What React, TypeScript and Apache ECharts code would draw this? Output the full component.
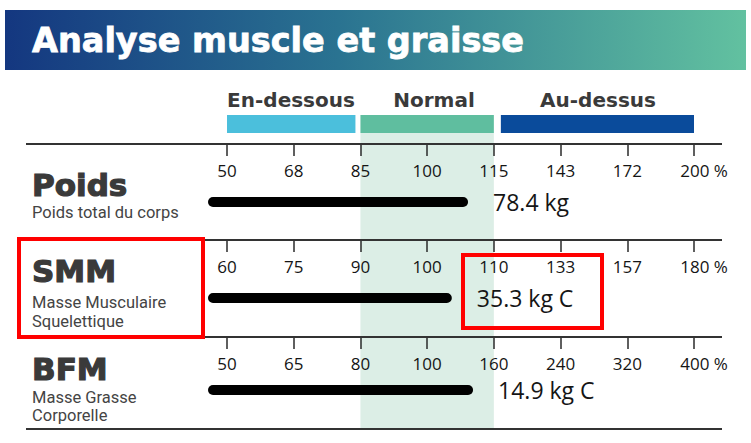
import React, { useEffect, useRef } from 'react'
import * as echarts from 'echarts'

const TITLE = 'Analyse muscle et graisse'
const RANGES = ['En-dessous', 'Normal', 'Au-dessus']
const ROWS = ['Poids', 'SMM', 'BFM']
const ROW_SUBTITLES = [
  ['Poids total du corps'],
  ['Masse Musculaire', 'Squelettique'],
  ['Masse Grasse', 'Corporelle'],
]
const POIDS_TICKS = [50, 68, 85, 100, 115, 143, 172, 200]
const SMM_TICKS = [60, 75, 90, 100, 110, 133, 157, 180]
const BFM_TICKS = [50, 65, 80, 100, 160, 240, 320, 400]
const ROW_TICKS = [POIDS_TICKS, SMM_TICKS, BFM_TICKS]
// percent of normal
const PERCENT = [109.2, 103.7, 141.3]
const KG = [78.4, 35.3, 14.9]
const FLAGS = ['', 'C', 'C']

// bars start a little left of the first tick
const OFFSET = 0.285
const ROW_TOPS = [144, 240, 337]
const TEXT = '#3a3a3a'
const INK = '#151515'

// piecewise position on the tick scale
function toAxis(pct: number, ticks: number[]) {
  for (let i = 0; i < ticks.length - 1; i++) {
    if (pct <= ticks[i + 1]) {
      return OFFSET + i + (pct - ticks[i]) / (ticks[i + 1] - ticks[i])
    }
  }
  return OFFSET + ticks.length - 1
}

export default function App() {
  const ref = useRef<HTMLDivElement>(null)

  useEffect(() => {
    if (!ref.current) return
    const chart = echarts.init(ref.current, null, { renderer: 'svg' })
    const tickValues = POIDS_TICKS.map((_, k) => k + OFFSET)

    chart.setOption({
      animation: false,
      grid: ROW_TOPS.map(top => ({ left: 208, right: 57, top, height: 116 })),
      xAxis: ROW_TICKS.map((ticks, i) => ({
        gridIndex: i,
        type: 'value',
        position: 'top',
        min: 0,
        max: ticks.length - 1 + OFFSET,
        axisLine: { show: false },
        splitLine: { show: false },
        axisTick: {
          show: true,
          inside: true,
          length: 12,
          customValues: tickValues,
          lineStyle: { color: '#2a2a2a', width: 1.5 },
        },
        axisLabel: {
          inside: true,
          margin: 18,
          customValues: tickValues,
          color: INK,
          fontSize: 17,
          fontFamily: 'Open Sans',
          formatter: (v: number) => {
            const k = Math.round(v - OFFSET)
            return k === ticks.length - 1 ? `{last|${ticks[k]} %}` : `${ticks[k]}`
          },
          rich: {
            last: {
              color: INK,
              fontSize: 17,
              fontFamily: 'Open Sans',
              padding: [0, 0, 0, 20],
            },
          },
        },
      })),
      yAxis: ROWS.map((name, i) => ({
        gridIndex: i,
        type: 'category',
        data: [name],
        show: false,
      })),
      series: ROWS.map((name, i) => ({
        type: 'bar',
        name,
        xAxisIndex: i,
        yAxisIndex: i,
        data: [toAxis(PERCENT[i], ROW_TICKS[i])],
        barWidth: 10,
        silent: true,
        itemStyle: { color: '#000', borderRadius: 5 },
        label: {
          show: true,
          position: 'right',
          distance: 25,
          formatter: `${KG[i]} kg${FLAGS[i] ? ' ' + FLAGS[i] : ''}`,
          color: INK,
          fontSize: 23,
          fontFamily: 'Open Sans',
        },
      })),
    })

    const px = (k: number) => chart.convertToPixel({ xAxisIndex: 0 }, k + OFFSET) as number
    const rangeBounds = [
      [px(0), px(2) - 5],
      [px(2), px(4)],
      [px(4) + 7, px(7)],
    ]
    const rangeColors = ['#4bbfdc', '#5fbe9f', '#0a4b9b']

    const graphic: any[] = [
      {
        type: 'rect',
        shape: { x: 5, y: 10, width: 741, height: 60 },
        style: {
          fill: new echarts.graphic.LinearGradient(0, 0, 1, 0, [
            { offset: 0, color: '#143780' },
            { offset: 0.45, color: '#2a7391' },
            { offset: 1, color: '#62c1a0' },
          ]),
        },
      },
      {
        type: 'text',
        x: 32,
        y: 40,
        style: {
          text: TITLE,
          fill: '#fff',
          stroke: '#fff',
          lineWidth: 0.8,
          fontSize: 33.5,
          fontWeight: 'bold',
          fontFamily: 'DejaVu Sans',
          verticalAlign: 'middle',
        },
      },
      // normal band
      {
        type: 'rect',
        z: -1,
        shape: { x: px(2), y: 133, width: px(4) - px(2), height: 296 },
        style: { fill: '#dceee6' },
      },
    ]

    RANGES.forEach((label, i) => {
      const [a, b] = rangeBounds[i]
      graphic.push({
        type: 'rect',
        shape: { x: a, y: 115, width: b - a, height: 18 },
        style: { fill: rangeColors[i] },
      })
      graphic.push({
        type: 'text',
        x: i === 0 ? 291 : i === 1 ? 434 : 598,
        y: 100,
        style: {
          text: label,
          fill: TEXT,
          fontSize: 20,
          fontWeight: 'bold',
          fontFamily: 'DejaVu Sans',
          align: 'center',
          verticalAlign: 'middle',
        },
      })
    })

    // row separators
    ;[...ROW_TOPS, 429].forEach(y => {
      graphic.push({
        type: 'line',
        z: 10,
        shape: { x1: 26, y1: y, x2: 722, y2: y },
        style: { stroke: '#333', lineWidth: 2 },
      })
    })

    const titleY = [185, 271, 369]
    const subY = [[212], [302, 321], [397, 415]]
    ROWS.forEach((name, i) => {
      graphic.push({
        type: 'text',
        x: 32,
        y: titleY[i],
        style: {
          text: name,
          fill: TEXT,
          stroke: TEXT,
          lineWidth: 1.2,
          fontSize: 31,
          fontWeight: 'bold',
          fontFamily: 'DejaVu Sans',
          verticalAlign: 'middle',
        },
      })
      ROW_SUBTITLES[i].forEach((line, j) => {
        graphic.push({
          type: 'text',
          x: 32,
          y: subY[i][j],
          style: {
            text: line,
            fill: '#444',
            fontSize: 16.5,
            fontFamily: 'Roboto',
            verticalAlign: 'middle',
          },
        })
      })
    })

    // red highlight boxes
    graphic.push(
      {
        type: 'rect',
        z: 20,
        shape: { x: 19, y: 239, width: 184, height: 98 },
        style: { fill: 'none', stroke: '#f00', lineWidth: 4 },
      },
      {
        type: 'rect',
        z: 20,
        shape: { x: 463, y: 255, width: 139, height: 73 },
        style: { fill: 'none', stroke: '#f00', lineWidth: 4 },
      }
    )

    chart.setOption({ graphic })

    return () => chart.dispose()
  }, [])

  return (
    <div
      ref={ref}
      style={{ position: 'absolute', left: 0, top: 0, width: 751, height: 443 }}
    />
  )
}
